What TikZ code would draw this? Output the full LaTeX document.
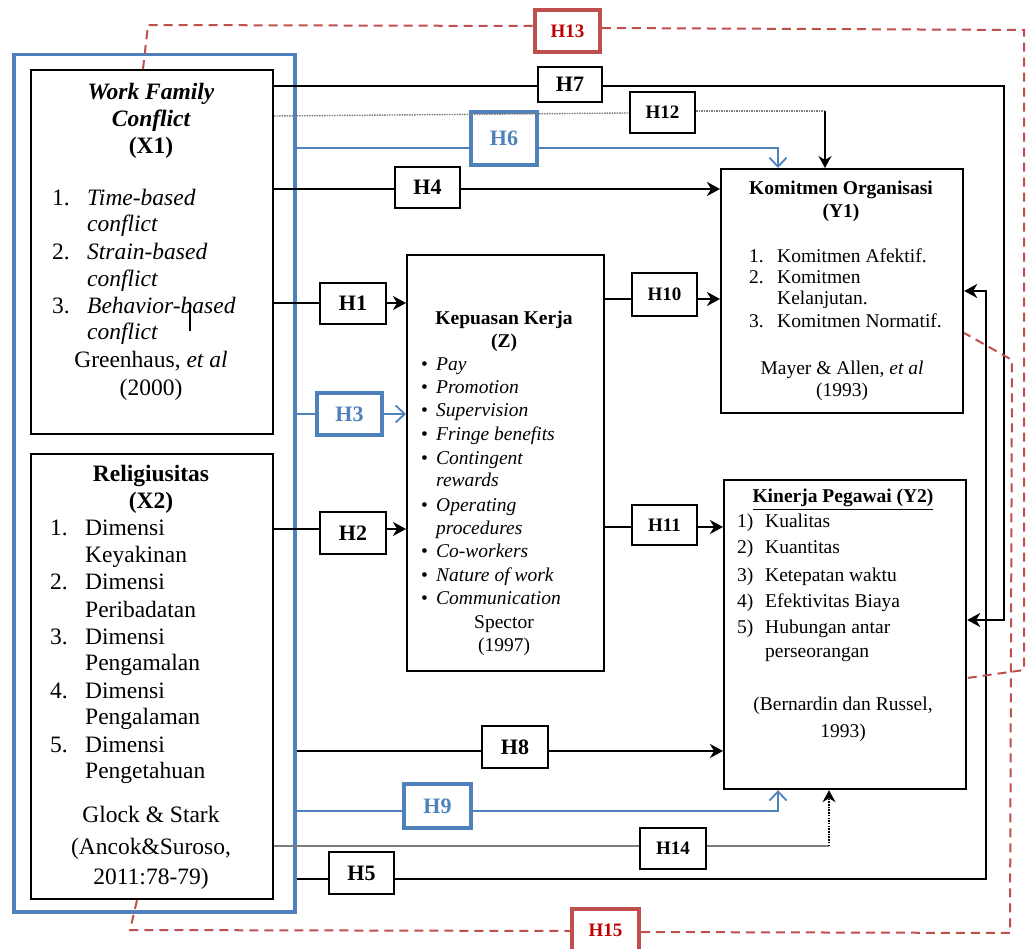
\documentclass[tikz,border=0pt]{standalone}
\usepackage{fontspec}
\setmainfont{Liberation Serif}
\usetikzlibrary{arrows.meta}
\definecolor{wblue}{RGB}{79,129,189}
\definecolor{wred}{RGB}{192,80,77}
\definecolor{wredtxt}{RGB}{192,0,0}
\definecolor{wgray}{RGB}{125,125,125}
\tikzset{
  bigbox/.style={draw=black, line width=2.2pt, inner sep=0pt, anchor=north west},
  hb/.style={draw=black, line width=2pt, inner sep=0pt, font=\fontsize{22}{22}\selectfont\bfseries},
  hbb/.style={hb, font=\fontsize{19}{19}\selectfont\bfseries},
  hblue/.style={hb, draw=wblue, line width=3.5pt, text=wblue},
  hred/.style={hbb, draw=wred, line width=3.5pt, text=wredtxt},
  tl/.style={anchor=base west, inner sep=0pt},
  tc/.style={anchor=base, inner sep=0pt},
  fa/.style={font=\fontsize{23.5}{27}\selectfont},
  fb/.style={font=\fontsize{19.5}{23}\selectfont},
  cn/.style={draw=black, line width=2pt},
  cna/.style={cn, -{Stealth[length=13pt,width=14pt,inset=4pt]}},
  bc/.style={draw=wblue, line width=1.8pt},
  bca/.style={bc, -{Straight Barb[length=9pt,width=17pt,line width=1.8pt]}},
  gc/.style={draw=wgray, line width=1.4pt},
  gdot/.style={gc, dash pattern=on 1.5pt off 1pt},
  rd/.style={draw=wred, line width=2pt, dash pattern=on 9pt off 6pt},
}
\begin{document}
\begin{tikzpicture}[x=1pt,y=-1pt]
\useasboundingbox (0,0) rectangle (1029,949);
\fill[white] (0,0) rectangle (1029,949);

% boxes
\node[draw=wblue, line width=3.5pt, inner sep=0pt, anchor=north west, minimum width=281pt, minimum height=857pt] (G) at (12,53) {};
\node[bigbox, minimum width=242pt, minimum height=364pt] (X1) at (30,69) {};
\node[bigbox, minimum width=242pt, minimum height=445pt] (X2) at (30,453) {};
\node[bigbox, minimum width=197pt, minimum height=416pt] (Z) at (406,254) {};
\node[bigbox, minimum width=242pt, minimum height=244pt] (Y1) at (720,168) {};
\node[bigbox, minimum width=242pt, minimum height=309pt] (Y2) at (723,479) {};

% X1 text
\node[tc,fa] (x1a) at (151,100) {\bfseries\itshape Work Family};
\node[tc,fa] (x1b) at (151,127) {\bfseries\itshape Conflict};
\node[tc,fa] (x1c) at (151,154) {\bfseries (X1)};
\node[tl,fa] (x1d) at (52,206) {1.};
\node[tl,fa] (x1e) at (87,206) {\itshape Time-based};
\node[tl,fa] (x1f) at (87,232) {\itshape conflict};
\node[tl,fa] (x1g) at (52,260) {2.};
\node[tl,fa] (x1h) at (87,260) {\itshape Strain-based};
\node[tl,fa] (x1i) at (87,287) {\itshape conflict};
\node[tl,fa] (x1j) at (52,314) {3.};
\node[tl,fa] (x1k) at (87,314) {\itshape Behavior-based};
\node[tl,fa] (x1l) at (87,340) {\itshape conflict};
\node[tc,fa] (x1m) at (151,368) {Greenhaus, \textit{et al}};
\node[tc,fa] (x1n) at (151,396) {(2000)};
\draw[line width=1.5pt] (190,305) -- (190,331);

% X2 text
\node[tc,fa] (x2a) at (151,482) {\bfseries Religiusitas};
\node[tc,fa] (x2b) at (151,509) {\bfseries (X2)};
\node[tl,fa] (x2c) at (50,536) {1.};
\node[tl,fa] (x2d) at (85,536) {Dimensi};
\node[tl,fa] (x2e) at (85,563) {Keyakinan};
\node[tl,fa] (x2f) at (50,590) {2.};
\node[tl,fa] (x2g) at (85,590) {Dimensi};
\node[tl,fa] (x2h) at (85,617) {Peribadatan};
\node[tl,fa] (x2i) at (50,644) {3.};
\node[tl,fa] (x2j) at (85,644) {Dimensi};
\node[tl,fa] (x2k) at (85,670) {Pengamalan};
\node[tl,fa] (x2l) at (50,698) {4.};
\node[tl,fa] (x2m) at (85,698) {Dimensi};
\node[tl,fa] (x2n) at (85,724) {Pengalaman};
\node[tl,fa] (x2o) at (50,752) {5.};
\node[tl,fa] (x2p) at (85,752) {Dimensi};
\node[tl,fa] (x2q) at (85,778) {Pengetahuan};
\node[tc,fa] (x2r) at (151,822) {Glock \& Stark};
\node[tc,fa] (x2s) at (151,854) {(Ancok\&Suroso,};
\node[tc,fa] (x2t) at (151,884) {2011:78-79)};

% Z text
\node[tc,fb] (za) at (504,325) {\bfseries Kepuasan Kerja};
\node[tc,fb] (zb) at (504,348) {\bfseries (Z)};
\node[tl,fb] (zc1) at (421,371) {\textbullet};
\node[tl,fb] (zc) at (436,371) {\itshape Pay};
\node[tl,fb] (zd1) at (421,394) {\textbullet};
\node[tl,fb] (zd) at (436,394) {\itshape Promotion};
\node[tl,fb] (ze1) at (421,417) {\textbullet};
\node[tl,fb] (ze) at (436,417) {\itshape Supervision};
\node[tl,fb] (zf1) at (421,441) {\textbullet};
\node[tl,fb] (zf) at (436,441) {\itshape Fringe benefits};
\node[tl,fb] (zg1) at (421,465) {\textbullet};
\node[tl,fb] (zg) at (436,465) {\itshape Contingent};
\node[tl,fb] (zh) at (436,487) {\itshape rewards};
\node[tl,fb] (zi1) at (421,512) {\textbullet};
\node[tl,fb] (zi) at (436,512) {\itshape Operating};
\node[tl,fb] (zj) at (436,535) {\itshape procedures};
\node[tl,fb] (zk1) at (421,558) {\textbullet};
\node[tl,fb] (zk) at (436,558) {\itshape Co-workers};
\node[tl,fb] (zl1) at (421,581) {\textbullet};
\node[tl,fb] (zl) at (436,581) {\itshape Nature of work};
\node[tl,fb] (zm1) at (421,605) {\textbullet};
\node[tl,fb] (zm) at (436,605) {\itshape Communication};
\node[tc,fb] (zn) at (504,628) {Spector};
\node[tc,fb] (zo) at (504,651) {(1997)};

% Y1 text
\node[tc,fb] (y1a) at (841,195) {\bfseries Komitmen Organisasi};
\node[tc,fb] (y1b) at (841,218) {\bfseries (Y1)};
\node[tl,fb] (y1c) at (749,263) {1.};
\node[tl,fb] (y1d) at (777,263) {Komitmen Afektif.};
\node[tl,fb] (y1e) at (749,284) {2.};
\node[tl,fb] (y1f) at (777,284) {Komitmen};
\node[tl,fb] (y1g) at (777,305) {Kelanjutan.};
\node[tl,fb] (y1h) at (749,328) {3.};
\node[tl,fb] (y1i) at (777,328) {Komitmen Normatif.};
\node[tc,fb] (y1j) at (842,375) {Mayer \& Allen, \textit{et al}};
\node[tc,fb] (y1k) at (842,397) {(1993)};

% Y2 text
\node[tc,fb] (y2a) at (843,503) {\bfseries\underline{Kinerja Pegawai (Y2)}};
\node[tl,fb] (y2b) at (737,528) {1)};
\node[tl,fb] (y2c) at (765,528) {Kualitas};
\node[tl,fb] (y2d) at (737,554) {2)};
\node[tl,fb] (y2e) at (765,554) {Kuantitas};
\node[tl,fb] (y2f) at (737,581) {3)};
\node[tl,fb] (y2g) at (765,581) {Ketepatan waktu};
\node[tl,fb] (y2h) at (737,607) {4)};
\node[tl,fb] (y2i) at (765,607) {Efektivitas Biaya};
\node[tl,fb] (y2j) at (737,633) {5)};
\node[tl,fb] (y2k) at (765,633) {Hubungan antar};
\node[tl,fb] (y2l) at (765,657) {perseorangan};
\node[tc,fb] (y2m) at (843,710) {(Bernardin dan Russel,};
\node[tc,fb] (y2n) at (843,737) {1993)};

% hypothesis boxes
\node[hred, minimum width=65pt, minimum height=42pt] (H13) at (567.5,31) {H13};
\node[hb, minimum width=64pt, minimum height=35pt] (H7) at (570,84.5) {H7};
\node[hbb, minimum width=65pt, minimum height=41pt] (H12) at (662.5,112.5) {H12};
\node[hblue, minimum width=66pt, minimum height=53pt] (H6) at (504,138.5) {H6};
\node[hb, minimum width=65pt, minimum height=41pt] (H4) at (427.5,187.5) {H4};
\node[hb, minimum width=66pt, minimum height=41pt] (H1) at (353,303.5) {H1};
\node[hbb, minimum width=65pt, minimum height=43pt] (H10) at (664.5,294.5) {H10};
\node[hblue, minimum width=65pt, minimum height=42pt] (H3) at (349.5,414) {H3};
\node[hb, minimum width=66pt, minimum height=42pt] (H2) at (353,533) {H2};
\node[hbb, minimum width=65pt, minimum height=40pt] (H11) at (664.5,525) {H11};
\node[hb, minimum width=66pt, minimum height=42pt] (H8) at (515,747) {H8};
\node[hblue, minimum width=67pt, minimum height=44pt] (H9) at (437.5,806) {H9};
\node[hbb, minimum width=66pt, minimum height=41pt] (H14) at (673,848.5) {H14};
\node[hb, minimum width=65pt, minimum height=42pt] (H5) at (361.5,873) {H5};
\node[hred, minimum width=67pt, minimum height=42pt] (H15) at (605.5,930) {H15};

% connectors
% H7
\draw[cn] (X1.east |- 0,86) -- (H7.west |- 0,86);
\draw[cna] (H7.east |- 0,86) -| (1004,620) -- (Y2.east |- 0,620);
% H12
\draw[gdot] (X1.east |- 0,116) -- (H12.west |- 0,113);
\draw[gdot] (H12.east |- 0,111) -- (825,111);
\draw[draw=black, line width=1.4pt, -{Stealth[length=12pt,width=13pt,inset=4pt]}] (825,111) -- (Y1.north -| 825,0);
% H6
\draw[bc] (G.east |- 0,148) -- (H6.west |- 0,148);
\draw[bca] (H6.east |- 0,148) -| (Y1.north -| 778,0);
% H4
\draw[cn] (X1.east |- 0,189) -- (H4.west |- 0,189);
\draw[cna] (H4.east |- 0,189) -- (Y1.west |- 0,189);
% H1
\draw[cn] (X1.east |- 0,303) -- (H1.west |- 0,303);
\draw[cna] (H1.east |- 0,303) -- (Z.west |- 0,303);
% H3
\draw[bc] (G.east |- 0,414) -- (H3.west |- 0,414);
\draw[bca] (H3.east |- 0,414) -- (Z.west |- 0,414);
% H10
\draw[cn] (Z.east |- 0,299) -- (H10.west |- 0,299);
\draw[cna] (H10.east |- 0,299) -- (Y1.west |- 0,299);
% H2
\draw[cn] (X2.east |- 0,529) -- (H2.west |- 0,529);
\draw[cna] (H2.east |- 0,529) -- (Z.west |- 0,529);
% H11
\draw[cn] (Z.east |- 0,527) -- (H11.west |- 0,527);
\draw[cna] (H11.east |- 0,527) -- (Y2.west |- 0,527);
% H8
\draw[cn] (G.east |- 0,751) -- (H8.west |- 0,751);
\draw[cna] (H8.east |- 0,751) -- (Y2.west |- 0,751);
% H9
\draw[bc] (G.east |- 0,811) -- (H9.west |- 0,811);
\draw[bca] (H9.east |- 0,811) -| (Y2.south -| 778,0);
% H14
\draw[gc] (X2.east |- 0,846) -- (H14.west |- 0,846);
\draw[gc] (H14.east |- 0,846) -- (829,846);
\draw[draw=black, line width=1.4pt, dash pattern=on 1.5pt off 1.2pt, -{Stealth[length=12pt,width=13pt,inset=4pt]}] (829,846) -- (Y2.south -| 829,0);
% H5
\draw[cn] (G.east |- 0,879) -- (H5.west |- 0,879);
\draw[cna] (H5.east |- 0,879) -| (986,291) -- (Y1.east |- 0,291);
% H13
\draw[rd] (X1.north -| 143,0) -- (148,25) -- (H13.west |- 0,26);
\draw[rd] (H13.east |- 0,28) -- (1024,30) -- (1024,670) -- (Y2.east |- 0,678);
% H15
\draw[rd] (X2.south -| 137,0) -- (130,930) -- (H15.west |- 0,931);
\draw[rd] (H15.east |- 0,932) -- (1010,933) -- (1012,360) -- (Y1.east |- 0,333);
\end{tikzpicture}
\end{document}
